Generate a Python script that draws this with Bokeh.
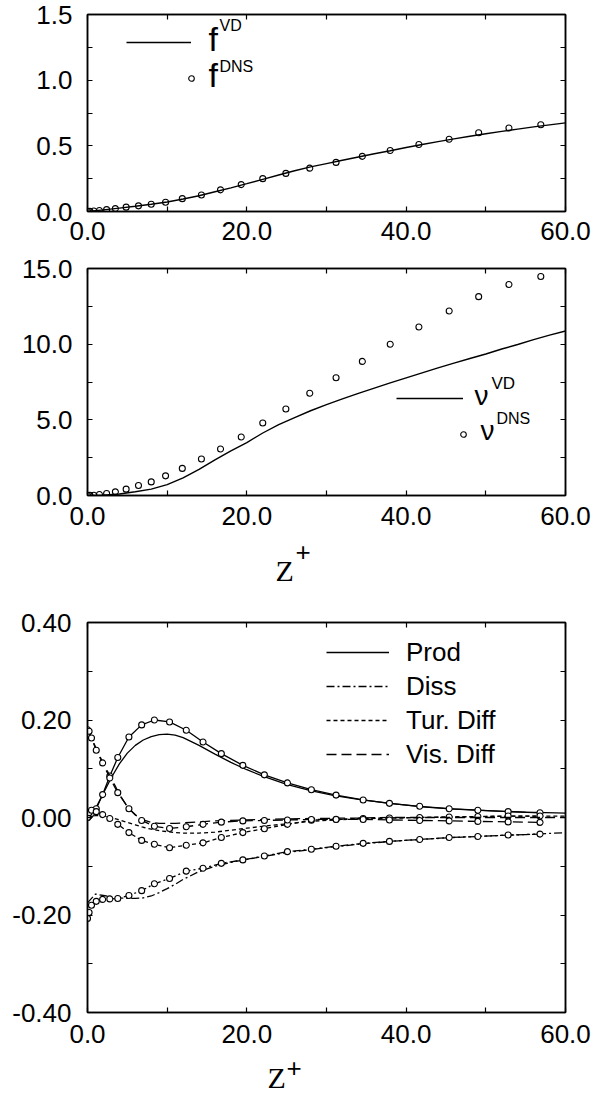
from bokeh.plotting import figure
from bokeh.models import (FixedTicker, PrintfTickFormatter, LinearAxis, Range1d,
                          Label, Legend, LegendItem)
from bokeh.layouts import column
from bokeh.embed import file_html
from bokeh.resources import INLINE

# ---------------- data ----------------
# panel 1 / 2 : DNS sample positions
z_dns = [0.0, 0.3, 0.8, 1.5, 2.4, 3.5, 4.85, 6.4, 8.0, 9.8, 11.9, 14.3, 16.7, 19.3,
         22.0, 24.9, 27.9, 31.2, 34.5, 38.0, 41.6, 45.4, 49.1, 52.9, 56.9]
f_dns = [0.0, 0.001, 0.004, 0.008, 0.014, 0.022, 0.033, 0.043, 0.055, 0.07, 0.098,
         0.126, 0.165, 0.205, 0.25, 0.29, 0.33, 0.374, 0.42, 0.465, 0.51, 0.55, 0.6,
         0.636, 0.66]
nu_dns = [0.0, 0.005, 0.02, 0.07, 0.13, 0.24, 0.42, 0.66, 0.9, 1.3, 1.79, 2.41, 3.07,
          3.87, 4.79, 5.72, 6.76, 7.78, 8.86, 9.99, 11.13, 12.19, 13.14, 13.94, 14.47]
# model (VD) curves
z_vd = [0, 2, 4, 6, 8, 10, 12, 14, 16, 18, 20, 22, 24, 26, 28, 30, 32, 34, 36, 38, 40,
        42, 44, 46, 48, 50, 52, 54, 56, 58, 60]
f_vd = [0.0, 0.012, 0.026, 0.04, 0.055, 0.072, 0.095, 0.12, 0.15, 0.18, 0.212, 0.245,
        0.278, 0.31, 0.34, 0.365, 0.39, 0.415, 0.44, 0.463, 0.487, 0.51, 0.532, 0.553,
        0.573, 0.592, 0.61, 0.627, 0.644, 0.66, 0.675]
nu_vd = [0.0, 0.02, 0.1, 0.25, 0.42, 0.72, 1.17, 1.72, 2.35, 2.95, 3.5, 4.13, 4.68,
         5.15, 5.6, 6.0, 6.38, 6.75, 7.1, 7.44, 7.77, 8.1, 8.43, 8.75, 9.05, 9.35, 9.68,
         9.98, 10.3, 10.6, 10.87]

# panel 3 : budget terms
zb_dns = [0.0, 0.2, 0.5, 1.1, 1.9, 2.8, 3.8, 5.2, 6.8, 8.4, 10.3, 12.4, 14.5, 16.8,
          19.5, 22.2, 25.1, 28.1, 31.2, 34.6, 37.9, 41.7, 45.4, 49.0, 52.8, 56.8]
prod_dns = [0.0, 0.003, 0.008, 0.018, 0.047, 0.085, 0.123, 0.165, 0.19, 0.2, 0.196,
            0.179, 0.155, 0.131, 0.107, 0.0875, 0.071, 0.057, 0.046, 0.036, 0.029,
            0.023, 0.018, 0.015, 0.012, 0.0096]
diss_dns = [-0.207, -0.195, -0.18, -0.172, -0.168, -0.167, -0.166, -0.16, -0.15,
            -0.136, -0.125, -0.11, -0.104, -0.094, -0.087, -0.079, -0.07, -0.065,
            -0.059, -0.053, -0.049, -0.045, -0.041, -0.039, -0.036, -0.034]
tur_dns = [0.0, 0.01, 0.015, 0.012, 0.006, -0.002, -0.014, -0.031, -0.047, -0.055,
           -0.062, -0.057, -0.052, -0.041, -0.031, -0.023, -0.014, -0.0055, -0.0035,
           -0.002, -0.001, 0.0, 0.001, 0.002, 0.003, 0.003]
vis_dns = [0.18, 0.177, 0.163, 0.138, 0.112, 0.081, 0.051, 0.018, -0.006, -0.018,
           -0.0225, -0.019, -0.014, -0.0095, -0.007, -0.006, -0.005, -0.004, -0.004,
           -0.004, -0.005, -0.006, -0.007, -0.008, -0.009, -0.01]
zb_mod = [0, 1, 2, 3, 4, 5, 6, 7, 8, 9, 10, 11, 12, 14, 16, 18, 20, 22, 25, 28, 31, 34,
          38, 42, 46, 50, 55, 60]
prod_mod = [0.0, 0.018, 0.05, 0.082, 0.11, 0.132, 0.148, 0.159, 0.166, 0.17, 0.171,
            0.169, 0.164, 0.148, 0.13, 0.113, 0.098, 0.085, 0.068, 0.055, 0.045, 0.037,
            0.029, 0.022, 0.017, 0.014, 0.011, 0.009]
diss_mod = [-0.175, -0.157, -0.16, -0.163, -0.165, -0.166, -0.166, -0.165, -0.161,
            -0.154, -0.146, -0.137, -0.127, -0.111, -0.1, -0.092, -0.086, -0.08,
            -0.072, -0.066, -0.06, -0.055, -0.049, -0.045, -0.041, -0.038, -0.035,
            -0.031]
tur_mod = [0.0, 0.004, 0.004, 0.0, -0.005, -0.01, -0.015, -0.02, -0.024, -0.027,
           -0.029, -0.031, -0.032, -0.032, -0.03, -0.026, -0.022, -0.018, -0.013,
           -0.008, -0.005, -0.003, -0.001, 0.0, 0.001, 0.002, 0.003, 0.003]
vis_mod = [0.18, 0.145, 0.11, 0.08, 0.048, 0.022, 0.005, -0.005, -0.01, -0.012, -0.012,
           -0.012, -0.011, -0.009, -0.007, -0.006, -0.005, -0.004, -0.003, -0.002,
           -0.0015, -0.001, 0.0, 0.0, 0.0, 0.0, 0.0, 0.0]

x_ticks = [0, 20, 40, 60]
x_minor = [10, 30, 50]
budget_labels = ["Prod", "Diss", "Tur. Diff", "Vis. Diff"]

SANS = "Liberation Sans"
SERIF = "Liberation Serif"
DASH = {"Prod": "solid", "Diss": "8 3 2 3", "Tur. Diff": "4 3", "Vis. Diff": "10 5"}

W = 600
BL, BR = 87, 35          # common left/right borders -> frame x 95 .. 573 on the page
FL = 8 + BL


def style_axis(ax):
    ax.major_tick_in = 5
    ax.major_tick_out = 0
    ax.minor_tick_in = 5
    ax.minor_tick_out = 0
    ax.axis_line_width = 1.5
    ax.major_tick_line_width = 1.2
    ax.minor_tick_line_width = 1.2
    ax.major_label_text_font = SANS
    ax.major_label_text_font_size = "26px"
    ax.major_label_text_color = "black"


def make_fig(h, bt, bb, yr, yticks, yminor, yfmt, xstand, ystand):
    p = figure(width=W, height=h, output_backend="svg", toolbar_location=None,
               x_range=Range1d(0, 60), y_range=Range1d(*yr),
               min_border_left=BL, min_border_right=BR,
               min_border_top=bt, min_border_bottom=bb)
    p.grid.visible = False
    p.outline_line_color = "black"
    p.outline_line_width = 1.5
    # opposite-side axes: tick marks only (all ticks as minor ticks -> no labels)
    p.add_layout(LinearAxis(ticker=FixedTicker(ticks=[], minor_ticks=yticks + yminor)),
                 "right")
    p.add_layout(LinearAxis(ticker=FixedTicker(ticks=[], minor_ticks=x_ticks + x_minor)),
                 "above")
    xb = p.below[0]
    yl = p.left[0]
    xb.ticker = FixedTicker(ticks=x_ticks, minor_ticks=x_minor)
    xb.formatter = PrintfTickFormatter(format="%.1f")
    yl.ticker = FixedTicker(ticks=yticks, minor_ticks=yminor)
    yl.formatter = PrintfTickFormatter(format=yfmt)
    for ax in [xb, yl, p.right[0], p.above[0]]:
        style_axis(ax)
    xb.major_label_standoff = xstand
    yl.major_label_standoff = ystand
    return p


def lab(p, FB, px, base, text, size, font=SANS):
    # px: page x of the text start, base: page y of the ink baseline
    k = 0.35 if font == SANS else 0.3375
    yc = base - k * size
    p.add_layout(Label(x=px - FL, y=FB - yc, x_units="screen", y_units="screen",
                       text=text, text_font=font, text_font_size=f"{size}px",
                       text_color="black", text_baseline="middle", text_align="left"))


def sample(p, FB, r, cx0, cy, w, h):
    lg = Legend(items=[LegendItem(label=" ", renderers=[r])],
                location=(cx0 - FL, FB - (cy + h / 2)),
                glyph_width=w, glyph_height=h, padding=0, margin=0, spacing=0,
                label_standoff=0, label_width=0, label_height=0,
                label_text_font_size="1px",
                border_line_alpha=0, background_fill_alpha=0)
    p.add_layout(lg)


def strip(h):
    s = figure(width=W, height=h, output_backend="svg", toolbar_location=None,
               x_axis_type=None, y_axis_type=None,
               min_border_left=BL, min_border_right=BR,
               min_border_top=0, min_border_bottom=0,
               x_range=Range1d(0, 1), y_range=Range1d(0, 1))
    s.outline_line_color = None
    s.grid.visible = False
    return s


# ---------------- panel 1 : f  (page y 8 .. 261) ----------------
FB1 = 219
p1 = make_fig(253, 14, 42, (0, 1.5), [0, 0.5, 1.0, 1.5], [0.25, 0.75, 1.25],
              "%.1f", 10, 15)
r1 = p1.line(z_vd, f_vd, line_color="black", line_width=1.4)
s1 = p1.scatter(z_dns, f_dns, marker="circle", size=6, fill_color=None,
                line_color="black", line_width=1.1)
sample(p1, FB1, r1, 133.6, 50, 65, 10)
sample(p1, FB1, s1, 192, 86, 14, 14)
lab(p1, FB1, 216, 58, "f", 34)
lab(p1, FB1, 227, 39, "VD", 16)
lab(p1, FB1, 216, 94, "f", 34)
lab(p1, FB1, 227, 80, "DNS", 16)

# ---------------- panel 2 : nu  (page y 261 .. 544) ----------------
FB2 = 503
p2 = make_fig(283, 15, 41, (0, 15), [0, 5, 10, 15], [2.5, 7.5, 12.5],
              "%.1f", 11, 15)
r2 = p2.line(z_vd, nu_vd, line_color="black", line_width=1.4)
s2 = p2.scatter(z_dns, nu_dns, marker="circle", size=6, fill_color=None,
                line_color="black", line_width=1.1)
sample(p2, FB2, r2, 404, 406, 67, 10)
sample(p2, FB2, s2, 463.7, 442, 14, 14)
lab(p2, FB2, 482, 413, "ν", 28)
lab(p2, FB2, 499, 397, "VD", 17)
lab(p2, FB2, 488, 448, "ν", 28)
lab(p2, FB2, 504, 432, "DNS", 16)

# axis title strip (page y 544 .. 600)
t2 = strip(56)
lab(t2, 600, 283, 588, "Z", 30, font=SERIF)
lab(t2, 600, 303, 569, "+", 26)

# ---------------- panel 3 : budget (page y 600 .. 1061) ----------------
FB3 = 1020
p3 = make_fig(461, 30, 41, (-0.4, 0.4), [-0.4, -0.2, 0.0, 0.2, 0.4],
              [-0.3, -0.1, 0.1, 0.3], "%.2f", 12, 16)
mods = [prod_mod, diss_mod, tur_mod, vis_mod]
dnss = [prod_dns, diss_dns, tur_dns, vis_dns]
items = []
for name, ym, yd in zip(budget_labels, mods, dnss):
    rm = p3.line(zb_mod, ym, line_color="black", line_width=1.3, line_dash=DASH[name])
    p3.line(zb_dns, yd, line_color="black", line_width=1.3, line_dash=DASH[name])
    p3.scatter(zb_dns, yd, marker="circle", size=6, fill_color="white",
               line_color="black", line_width=1.1)
    items.append(LegendItem(label=name, renderers=[rm]))
leg3 = Legend(items=items, location=(334 - FL, FB3 - 777.5),
              glyph_width=63, glyph_height=30, label_height=30, spacing=3,
              padding=0, margin=0, label_standoff=17,
              label_text_font=SANS, label_text_font_size="26px",
              label_text_color="black",
              border_line_alpha=0, background_fill_alpha=0)
p3.add_layout(leg3)

# axis title strip (page y 1061 .. 1102)
t3 = strip(41)
lab(t3, 1102, 275, 1095, "Z", 30, font=SERIF)
lab(t3, 1102, 294, 1085, "+", 26)

layout = column(p1, p2, t2, p3, t3)
open("out.html", "w").write(file_html(layout, INLINE))
